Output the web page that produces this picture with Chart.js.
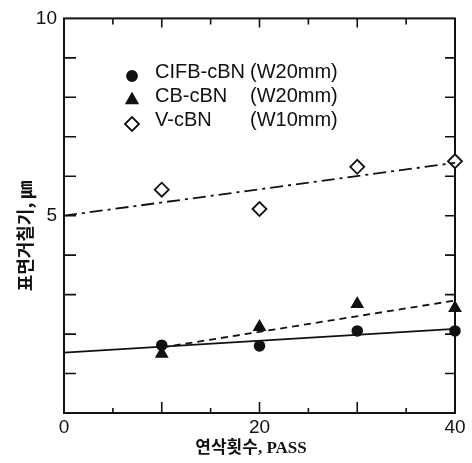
<!DOCTYPE html>
<html><head><meta charset="utf-8">
<script src="https://cdn.jsdelivr.net/npm/chart.js@4/dist/chart.umd.min.js"></script>
<style>html,body{margin:0;padding:0;background:#fff}canvas{display:block}</style>
</head><body><canvas id="c" width="472" height="463"></canvas>
<script>
const passes = [10, 20, 30, 40];
const cifbValues = [1.72, 1.70, 2.08, 2.08];
const cbValues = [1.50, 2.18, 2.76, 2.66];
const vValues = [5.66, 5.17, 6.24, 6.38];
const cifbFitX = [0, 40];
const cifbFitY = [1.53, 2.13];
const cbFitX = [10, 40];
const cbFitY = [1.66, 2.85];
const vFitX = [0, 40];
const vFitY = [5.0, 6.34];
const seriesNames = ['CIFB-cBN', 'CB-cBN', 'V-cBN'];
const seriesWidths = ['(W20mm)', '(W20mm)', '(W10mm)'];
const xTickLabels = [0, 20, 40];
const yTickLabels = [5, 10];
const xTitle = '연삭횟수, PASS';
const yTitle = '표면거칠기, ㎛';

const pts = (xs, ys) => xs.map((x, i) => ({x: x, y: ys[i]}));

const INK = '#111';

const markerDefs = [
  {pointStyle: 'circle', radius: 5, bg: INK},
  {pointStyle: 'triangle', radius: 6.5, bg: INK},
  {pointStyle: 'rectRot', radius: 7, bg: '#fff'}
];

const frame = {
  id: 'frame',
  beforeDatasetsDraw(chart) {
    const {ctx, chartArea: a, scales: {x, y}} = chart;
    ctx.save();
    ctx.strokeStyle = INK;
    ctx.lineWidth = 2;
    ctx.strokeRect(a.left, a.top, a.right - a.left, a.bottom - a.top);
    ctx.lineWidth = 1.6;
    ctx.beginPath();
    x.ticks.forEach(t => {
      if (t.value <= x.min || t.value >= x.max) return;
      const px = x.getPixelForValue(t.value);
      const major = t.value % 10 === 0;
      const lb = major ? 11 : 5;
      const lt = major ? 9 : 6;
      ctx.moveTo(px, a.bottom); ctx.lineTo(px, a.bottom - lb);
      ctx.moveTo(px, a.top); ctx.lineTo(px, a.top + lt);
    });
    for (let v = y.min + 1; v < y.max; v++) {
      const py = y.getPixelForValue(v);
      ctx.moveTo(a.left, py); ctx.lineTo(a.left + 12, py);
      ctx.moveTo(a.right, py); ctx.lineTo(a.right - 10, py);
    }
    ctx.stroke();
    ctx.restore();
  },
  afterDraw(chart) {
    const {ctx} = chart;
    ctx.save();
    ctx.fillStyle = INK;
    // axis titles
    ctx.font = 'bold 17px "Liberation Serif", "Noto Sans CJK KR"';
    ctx.textAlign = 'center';
    ctx.textBaseline = 'middle';
    ctx.fillText(xTitle, 251, 449);
    ctx.save();
    ctx.translate(25, 236);
    ctx.rotate(-Math.PI / 2);
    ctx.font = 'bold 18px "Noto Sans CJK KR"';
    ctx.fillText(yTitle, 0, 0);
    ctx.restore();
    // legend
    ctx.font = '20px "Liberation Sans", Arial';
    ctx.textAlign = 'left';
    const rowY = [72, 96, 120];
    seriesNames.forEach((n, i) => {
      const ty = rowY[i];
      const m = markerDefs[i];
      ctx.fillStyle = m.bg;
      ctx.strokeStyle = INK;
      ctx.lineWidth = 1.8;
      Chart.helpers.drawPoint(ctx, {pointStyle: m.pointStyle, radius: m.radius, rotation: 0, borderWidth: 1.8}, 132, ty + 4);
      ctx.fillStyle = INK;
      ctx.fillText(n, 155, ty);
      const w = ctx.measureText(n).width;
      ctx.fillText(seriesWidths[i], Math.max(155 + w + 1, 250), ty);
    });
    ctx.restore();
  }
};

new Chart(document.getElementById('c'), {
  type: 'scatter',
  data: {
    datasets: [
      {label: seriesNames[0] + seriesWidths[0] + ' fit', data: pts(cifbFitX, cifbFitY), showLine: true, pointRadius: 0, borderColor: INK, borderWidth: 1.8, clip: false},
      {label: seriesNames[1] + seriesWidths[1] + ' fit', data: pts(cbFitX, cbFitY), showLine: true, pointRadius: 0, borderColor: INK, borderWidth: 1.8, borderDash: [7, 5], clip: false},
      {label: seriesNames[2] + seriesWidths[2] + ' fit', data: pts(vFitX, vFitY), showLine: true, pointRadius: 0, borderColor: INK, borderWidth: 1.8, borderDash: [13, 5, 3, 5], clip: false},
      {label: seriesNames[0], data: pts(passes, cifbValues), pointStyle: 'circle', pointRadius: 5, backgroundColor: INK, borderColor: INK, borderWidth: 1.5, clip: false},
      {label: seriesNames[1], data: pts(passes, cbValues), pointStyle: 'triangle', pointRadius: 6.5, backgroundColor: INK, borderColor: INK, borderWidth: 1.5, clip: false},
      {label: seriesNames[2], data: pts(passes, vValues), pointStyle: 'rectRot', pointRadius: 7, backgroundColor: '#fff', borderColor: INK, borderWidth: 1.8, clip: false}
    ]
  },
  options: {
    responsive: false,
    animation: false,
    events: [],
    layout: {padding: {left: 0, right: 17, top: 14, bottom: 0}},
    plugins: {legend: {display: false}, tooltip: {enabled: false}},
    scales: {
      x: {
        type: 'linear', min: 0, max: 40,
        grid: {display: false, drawTicks: false},
        border: {display: false},
        afterFit(s) { s.height = 50; },
        ticks: {
          stepSize: 5, padding: 3, color: INK,
          font: {family: '"Liberation Sans", Arial', size: 19},
          callback: v => xTickLabels.includes(v) ? String(v) : ''
        }
      },
      y: {
        type: 'linear', min: 0, max: 10,
        grid: {display: false, drawTicks: false},
        border: {display: false},
        afterFit(s) { s.width = 64; },
        ticks: {
          stepSize: 1, padding: 7, color: INK,
          font: {family: '"Liberation Sans", Arial', size: 19},
          callback: v => yTickLabels.includes(v) ? String(v) : ''
        }
      }
    }
  },
  plugins: [frame]
});
</script>
</body></html>
